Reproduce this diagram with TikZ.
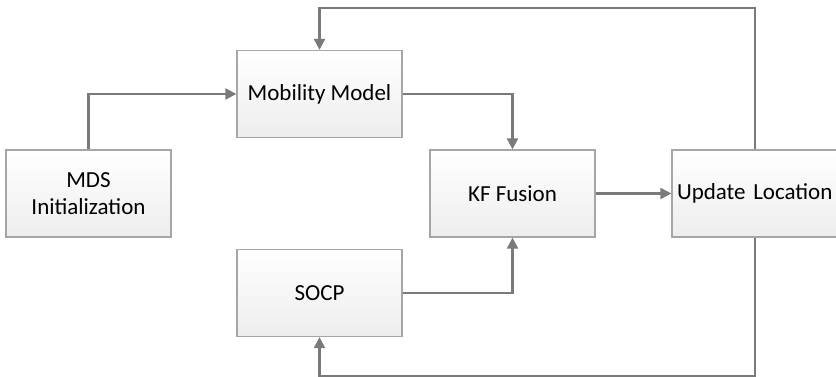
\documentclass[tikz,border=0pt]{standalone}
\usepackage{fontspec}
\setmainfont{Carlito}
\usepackage{tikz}
\usetikzlibrary{positioning}
\usetikzlibrary{arrows.meta}

\begin{document}
\begin{tikzpicture}[
    x=1pt, y=1pt,
    block/.style={
      draw=black!35,
      line width=1.3pt,
      top color=white,
      bottom color=black!7,
      minimum width=165pt,
      minimum height=87pt,
      inner sep=2pt,
      align=center,
      font=\fontsize{23}{27.5}\selectfont,
      rectangle
    },
    conn/.style={
      draw=black!52,
      line width=2.2pt,
      -{Triangle[length=11pt, width=11pt]}
    }
  ]
  \useasboundingbox (0,0) rectangle (836,377);

  % blocks
  \node[block] (mds) at (88.5,183.5) {MDS\\Initialization};
  \node[block] (mob) at (319.5,283) {Mobility Model};
  \node[block] (kf) at (512.5,183.5) {KF Fusion};
  \node[block, minimum width=180pt, text width=170pt, align=left] (upd) at (762,183.5) {Update Location};
  \node[block] (socp) at (319.5,84) {SOCP};

  % loop levels
  \coordinate (top) at (0,369);
  \coordinate (bot) at (0,1);
  \coordinate (updx) at (755,0);

  % connectors
  \draw[conn] (mds.north) |- (mob.west);
  \draw[conn] (mob.east) -| (kf.north);
  \draw[conn] (socp.east) -| (kf.south);
  \draw[conn] (kf.east) -- (upd.west);
  \draw[conn] (updx |- upd.north) -- (updx |- top) -| (mob.north);
  \draw[conn] (updx |- upd.south) -- (updx |- bot) -| (socp.south);
\end{tikzpicture}
\end{document}
